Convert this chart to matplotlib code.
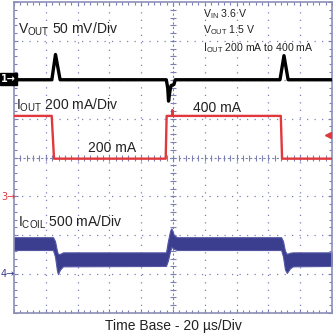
import numpy as np
import matplotlib
matplotlib.use("Agg")
import matplotlib.pyplot as plt

plt.rcParams['font.family'] = ['Liberation Sans', 'DejaVu Sans']
plt.rcParams['mathtext.fontset'] = 'custom'
plt.rcParams['mathtext.rm'] = 'Liberation Sans'
plt.rcParams['mathtext.it'] = 'Liberation Sans'

# ---- data (screen divisions: x 0..10, y 0..8) ----
vout_t = [0, 1.19, 1.305, 1.45, 4.79, 4.835, 4.86, 4.905, 4.94, 5.03, 5.07,
          8.365, 8.49, 8.62, 10]
vout_v = [6.0, 6.0, 6.65, 6.0, 6.0, 5.78, 5.45, 5.72, 5.85, 5.88, 6.0,
          6.0, 6.62, 6.0, 6.0]

iout_t = [0, 1.186, 1.258, 4.77, 4.80, 4.97, 4.98, 4.99, 8.39, 8.43, 10]
iout_v = [5.07, 5.07, 3.97, 3.97, 5.07, 5.07, 5.22, 5.07, 5.07, 3.97, 3.97]

icoil_t = [0, 1.226, 1.29, 1.35, 1.38, 1.45, 1.54,
           4.78, 4.84, 4.91, 4.95, 5.03, 5.13,
           8.40, 8.46, 8.52, 8.58, 8.68, 8.77, 10]
icoil_top = [1.95, 1.95, 1.85, 1.60, 1.52, 1.52, 1.56,
             1.56, 1.85, 2.12, 2.18, 2.00, 1.95,
             1.95, 1.85, 1.60, 1.52, 1.55, 1.56, 1.56]
icoil_bot = [1.62, 1.62, 1.45, 1.10, 1.00, 1.12, 1.20,
             1.21, 1.35, 1.60, 1.70, 1.65, 1.62,
             1.62, 1.45, 1.12, 1.03, 1.15, 1.20, 1.21]

W = 333.0
fig = plt.figure(figsize=(3.33, 3.33), dpi=100)
fig.patch.set_facecolor('white')
ax = fig.add_axes([14 / W, 1 - 313 / W, 318 / W, 311 / W])
ax.set_xlim(0, 10)
ax.set_ylim(0, 8)

gridc = '#7c80b4'
for sp in ax.spines.values():
    sp.set_color('#8c8fb8')
    sp.set_linewidth(1.2)

ax.set_xticks(np.arange(0, 11, 1))
ax.set_yticks(np.arange(0, 9, 1))
ax.set_xticks(np.arange(0, 10.01, 0.2), minor=True)
ax.set_yticks(np.arange(0, 8.01, 0.2), minor=True)
ax.tick_params(which='both', direction='in', top=True, right=True,
               labelbottom=False, labelleft=False, color=gridc)
ax.tick_params(which='major', length=3, width=0.8)
ax.tick_params(which='minor', length=2, width=0.8)

for x in range(1, 10):
    if x == 5:
        continue
    ax.axvline(x, color=gridc, lw=0.9, ls=(0, (1, 5)), zorder=0)
for y in range(1, 8):
    if y == 4:
        continue
    ax.axhline(y, color=gridc, lw=0.9, ls=(0, (1, 5)), zorder=0)
ax.axvline(5, color=gridc, lw=0.8, ls=(0, (2, 2)), zorder=0)
ax.axhline(4, color=gridc, lw=0.8, ls=(0, (2, 2)), zorder=0)
ys = np.arange(0.2, 8, 0.2)
xs = np.arange(0.2, 10, 0.2)
ax.plot(np.full(len(ys), 5.0), ys, ls='none', marker='_', ms=4, mew=0.8, color=gridc, zorder=0)
ax.plot(xs, np.full(len(xs), 4.0), ls='none', marker='|', ms=4, mew=0.8, color=gridc, zorder=0)

# traces
ax.fill_between(icoil_t, icoil_bot, icoil_top, color='#3b3d8f', lw=0.8,
                edgecolor='#5557a3', zorder=2)
ax.plot(iout_t, iout_v, color='#e0383c', lw=1.7, zorder=3)
ax.plot(vout_t, vout_v, color='black', lw=2.4, zorder=4)

# trigger level marker
ax.plot([9.87], [4.59], marker='<', ms=5, color='#e0383c', zorder=5, clip_on=False)

def ft(x, y, s, **kw):
    fig.text(x / W, 1 - y / W, s, va='baseline', **kw)

ft(18, 34, r'V$_{\mathrm{OUT}}$ 50 mV/Div', fontsize=10, color='#222222')
ft(16, 110, r'I$_{\mathrm{OUT}}$ 200 mA/Div', fontsize=10, color='#222222')
ft(88, 152, '200 mA', fontsize=10, color='#222222')
ft(193, 112, '400 mA', fontsize=10, color='#222222')
ft(18, 227, r'I$_{\mathrm{COIL}}$ 500 mA/Div', fontsize=10, color='#222222')

ft(203, 17, r'V$_{\mathrm{IN}}$ 3.6 V', fontsize=7.6, color='#222222')
ft(203, 33, r'V$_{\mathrm{OUT}}$ 1.5 V', fontsize=7.6, color='#222222')
ft(203, 51, r'I$_{\mathrm{OUT}}$ 200 mA to 400 mA', fontsize=7.6, color='#222222')

fig.text(173 / W, 1 - 330 / W, 'Time Base - 20 \u00b5s/Div', ha='center', va='baseline',
         fontsize=10, color='#222222')

# channel ground markers
fig.text(1 / W, 1 - 79 / W, '1\u2192', ha='left', va='center', fontsize=7, color='white',
         family=['DejaVu Sans'], fontweight='bold',
         bbox=dict(boxstyle='square,pad=0.15', fc='black', ec='black'))
fig.text(1 / W, 1 - 197 / W, '3\u2192', ha='left', va='center', fontsize=7,
         color='#e0383c', family=['DejaVu Sans'])
fig.text(1 / W, 1 - 274 / W, '4\u2192', ha='left', va='center', fontsize=7,
         color='#3b3d8f', family=['DejaVu Sans'])

fig.savefig('out.png', dpi=100, facecolor='white')
